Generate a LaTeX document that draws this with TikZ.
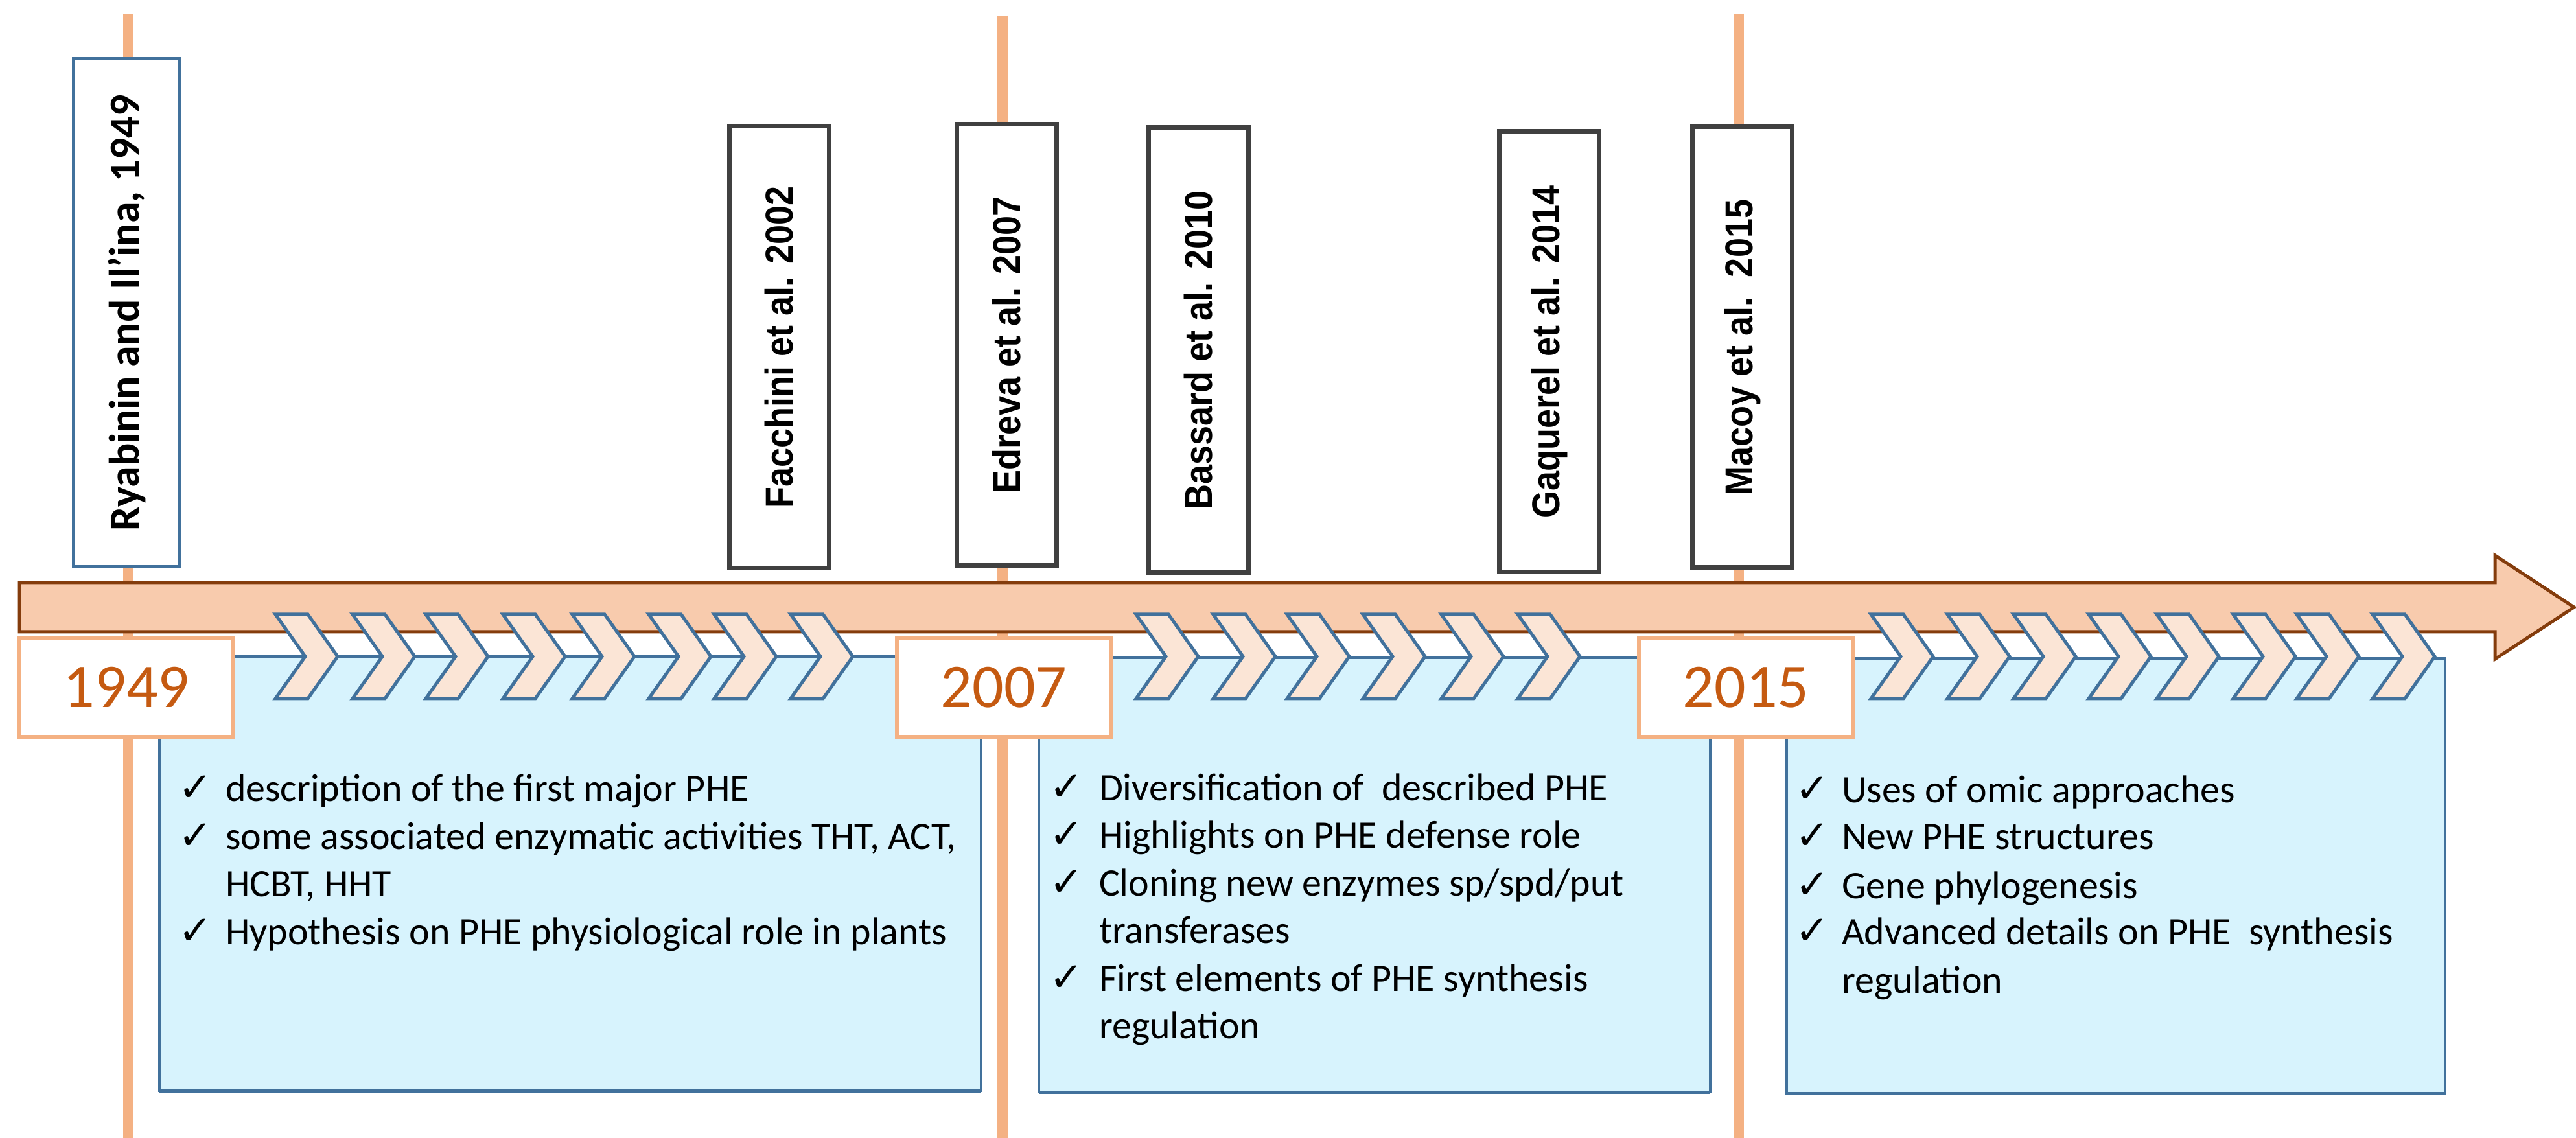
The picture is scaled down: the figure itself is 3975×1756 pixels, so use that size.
\documentclass[tikz,border=0pt]{standalone}
\usepackage{fontspec}
\usepackage{graphicx}
\setmainfont{Carlito}
\newfontfamily\reffont{Liberation Sans}
\newfontfamily\chkfont{DejaVu Sans}
\definecolor{vlinec}{HTML}{F4B183}
\definecolor{arrowfillc}{HTML}{F8CBAD}
\definecolor{arrowdrawc}{HTML}{843C0C}
\definecolor{chevfillc}{HTML}{FBE5D6}
\definecolor{bluec}{HTML}{41719C}
\definecolor{panelc}{HTML}{D7F3FD}
\definecolor{yearc}{HTML}{C55A11}
\definecolor{grayc}{HTML}{404040}
\begin{document}
\begin{tikzpicture}[x=0.2pt,y=-0.2pt,
  vline/.style={draw=vlinec, line width=3.2pt},
  panel/.style={draw=bluec, fill=panelc, line width=0.8pt, inner sep=0pt, outer sep=0pt},
  mainarrow/.style={draw=arrowdrawc, fill=arrowfillc, line width=1pt, line join=miter},
  chev/.style={draw=bluec, fill=chevfillc, line width=1pt, line join=miter},
  yearbox/.style={draw=vlinec, fill=white, line width=1.2pt, minimum width=66pt, minimum height=30.6pt, inner sep=0pt, outer sep=0pt, text=yearc, font=\fontsize{19.2}{23}\selectfont},
  refbox/.style={draw=grayc, fill=white, line width=1.4pt, inner sep=0pt, outer sep=0pt, minimum width=30.8pt},
  firstbox/.style={draw=bluec, fill=white, line width=1pt, inner sep=0pt, outer sep=0pt},
  reftext/.style={rotate=90, inner sep=0pt, font=\reffont\bfseries\fontsize{12}{14}\selectfont},
  firsttext/.style={rotate=90, inner sep=0pt, font=\bfseries\fontsize{13.2}{15}\selectfont},
  itemtext/.style={anchor=base west, inner sep=0pt, font=\fontsize{12}{14.6}\selectfont},
  chk/.style={anchor=base west, inner sep=0pt, font=\chkfont\fontsize{12.5}{14}\selectfont}
]
\useasboundingbox (0,0) rectangle (3975,1756);
\fill[white] (0,0) rectangle (3975,1756);

% vertical time lines
\coordinate (l1t) at (198,21);  \coordinate (l1b) at (198,1756);
\coordinate (l2t) at (1547,24); \coordinate (l2b) at (1547,1756);
\coordinate (l3t) at (2683,21); \coordinate (l3b) at (2683,1756);
\draw[vline] (l1t) -- (l1b);
\draw[vline] (l2t) -- (l2b);
\draw[vline] (l3t) -- (l3b);

% panels
\node[panel, minimum width=253.6pt, minimum height=134pt] (p1) at (880,1348) {};
\node[panel, minimum width=207.2pt, minimum height=134pt] (p2) at (2121,1350) {};
\node[panel, minimum width=203.2pt, minimum height=134.2pt] (p3) at (3265,1351.5) {};
\draw[bluec, line width=1pt] (p1.south west) -- (p1.south east);
\draw[bluec, line width=1pt] (p2.south west) -- (p2.south east);
\draw[bluec, line width=1pt] (p3.south west) -- (p3.south east);

% main arrow
\draw[mainarrow] (30,899) -- (3850,899) -- (3850,857) -- (3972,937) -- (3850,1017) -- (3850,975) -- (30,975) -- cycle;

% chevrons
\foreach \cx in {425,544,657,776,883,1001,1102,1220,1753,1872,1986,2103,2224,2342,2887,3005,3107,3223,3328,3446,3544,3661}
  \draw[chev] (\cx,948) -- ++(50,0) -- ++(46,65) -- ++(-46,65) -- ++(-50,0) -- ++(46,-65) -- cycle;

% year boxes
\node[yearbox] (y1949) at (195,1060.5) {1949};
\node[yearbox] (y2007) at (1549,1060.5) {2007};
\node[yearbox] (y2015) at (2694,1060.5) {2015};

% reference boxes
\node[firstbox, minimum width=32.6pt, minimum height=156.8pt] (rya) at (195.5,483) {};
\node[firsttext] (ryat) at (rya.center) {Ryabinin and Il’ina, 1949};
\node[refbox, minimum height=136.4pt] (fac) at (1202,536) {};
\node[reftext] (fact) at (fac.center) {\scalebox{0.9}[1]{Facchini et al. 2002}};
\node[refbox, minimum height=136.2pt] (edr) at (1553,532.5) {};
\node[reftext] (edrt) at (edr.center) {\scalebox{0.9}[1]{Edreva et al. 2007}};
\node[refbox, minimum height=137.4pt] (bas) at (1849,540.5) {};
\node[reftext] (bast) at (bas.center) {\scalebox{0.9}[1]{Bassard et al. 2010}};
\node[refbox, minimum height=136pt] (gaq) at (2390.5,543) {};
\node[reftext] (gaqt) at (gaq.center) {\scalebox{0.9}[1]{Gaquerel et al. 2014}};
\node[refbox, minimum height=136pt] (mac) at (2688.5,536) {};
\node[reftext] (mact) at (mac.center) {\scalebox{0.9}[1]{Macoy et al.\ \ 2015}};

% panel 1 text
\node[chk] (c11) at (274,1237) {✓};
\node[itemtext] (t11) at (347,1237) {description of the first major PHE};
\node[chk] (c12) at (274,1310) {✓};
\node[itemtext] (t12) at (347,1310) {some associated enzymatic activities THT, ACT,};
\node[itemtext] (t13) at (347,1384) {HCBT, HHT};
\node[chk] (c14) at (274,1457) {✓};
\node[itemtext] (t14) at (347,1457) {Hypothesis on PHE physiological role in plants};

% panel 2 text
\node[chk] (c21) at (1618,1236) {✓};
\node[itemtext] (t21) at (1695,1236) {Diversification of\ \ described PHE};
\node[chk] (c22) at (1618,1309) {✓};
\node[itemtext] (t22) at (1695,1309) {Highlights on PHE defense role};
\node[chk] (c23) at (1618,1383) {✓};
\node[itemtext] (t23) at (1695,1383) {Cloning new enzymes sp/spd/put};
\node[itemtext] (t24) at (1695,1456) {transferases};
\node[chk] (c25) at (1618,1529) {✓};
\node[itemtext] (t25) at (1695,1529) {First elements of PHE synthesis};
\node[itemtext] (t26) at (1695,1603) {regulation};

% panel 3 text
\node[chk] (c31) at (2769,1239) {✓};
\node[itemtext] (t31) at (2841,1239) {Uses of omic approaches};
\node[chk] (c32) at (2769,1311) {✓};
\node[itemtext] (t32) at (2841,1311) {New PHE structures};
\node[chk] (c33) at (2769,1386) {✓};
\node[itemtext] (t33) at (2841,1386) {Gene phylogenesis};
\node[chk] (c34) at (2769,1457) {✓};
\node[itemtext] (t34) at (2841,1457) {Advanced details on PHE\ \ synthesis};
\node[itemtext] (t35) at (2841,1532) {regulation};
\end{tikzpicture}
\end{document}
